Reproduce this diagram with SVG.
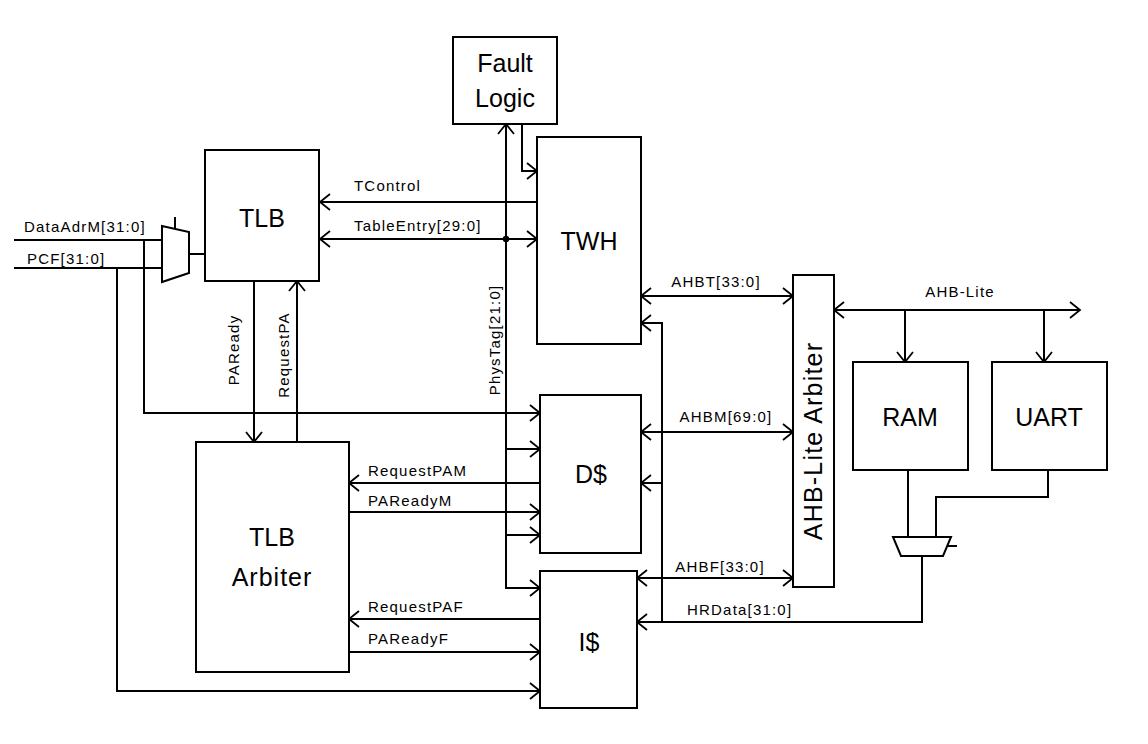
<svg xmlns="http://www.w3.org/2000/svg" width="1148" height="744" viewBox="0 0 1148 744">
<defs>
<marker id="ah" markerUnits="userSpaceOnUse" markerWidth="14" markerHeight="20" refX="11" refY="9" orient="auto-start-reverse" viewBox="0 0 14 20">
<path d="M1,1 L11,9 L1,17" fill="none" stroke="#000" stroke-width="1.8"/>
</marker>
<style>
.box{fill:#fff;stroke:#000;stroke-width:2}
.ln{fill:none;stroke:#000;stroke-width:2}
.a{marker-end:url(#ah)}
.aa{marker-start:url(#ah);marker-end:url(#ah)}
.t{font-family:"Liberation Sans",Arial,sans-serif;font-size:25px;fill:#000;text-anchor:middle}
.l{font-family:"Liberation Sans",Arial,sans-serif;font-size:15px;fill:#000;letter-spacing:1.2px}
.m{text-anchor:middle}
</style>
</defs>
<rect width="1148" height="744" fill="#fff"/>
<g id="connectors">
<path class="ln" d="M14,240 H162"/>
<path class="ln" d="M14,268 H162"/>
<path class="ln a" d="M144,240 V413 H540"/>
<path class="ln a" d="M117,268 V691 H540"/>
<path class="ln" d="M175,217 V229"/>
<path class="ln" d="M189,254 H205"/>
<path class="ln a" d="M537,202 H320"/>
<path class="ln aa" d="M320,239 H537"/>
<circle cx="506" cy="239" r="3.2" fill="#000"/>
<path class="ln a" d="M506,239 V124"/>
<path class="ln a" d="M506,239 V588 H540"/>
<path class="ln a" d="M506,449 H540"/>
<path class="ln a" d="M506,535 H540"/>
<path class="ln a" d="M522,124 V171 H537"/>
<path class="ln a" d="M254,281 V442"/>
<path class="ln a" d="M297,442 V281"/>
<path class="ln a" d="M540,483 H349"/>
<path class="ln a" d="M349,512 H540"/>
<path class="ln a" d="M540,619 H349"/>
<path class="ln a" d="M349,652 H540"/>
<path class="ln aa" d="M641,296 H793"/>
<path class="ln aa" d="M641,432 H793"/>
<path class="ln aa" d="M637,578 H793"/>
<path class="ln a" d="M662,622 V323 H641"/>
<path class="ln a" d="M662,483 H641"/>
<path class="ln a" d="M922,556 V622 H637"/>
<path class="ln aa" d="M834,310 H1080"/>
<path class="ln a" d="M905,310 V362"/>
<path class="ln a" d="M1044,310 V362"/>
<path class="ln" d="M908,470 V537"/>
<path class="ln" d="M1048,470 V497 H936 V537"/>
<path class="ln" d="M947,546 H957"/>
</g>
<g id="labels">
<text class="l" x="24" y="232">DataAdrM[31:0]</text>
<text class="l" x="27" y="264">PCF[31:0]</text>
<text class="l" x="354" y="191">TControl</text>
<text class="l" x="354" y="231">TableEntry[29:0]</text>
<text class="l m" transform="translate(239,350) rotate(-90)">PAReady</text>
<text class="l m" transform="translate(289,355) rotate(-90)">RequestPA</text>
<text class="l m" transform="translate(500,340) rotate(-90)">PhysTag[21:0]</text>
<text class="l" x="368" y="476">RequestPAM</text>
<text class="l" x="368" y="506">PAReadyM</text>
<text class="l" x="368" y="612">RequestPAF</text>
<text class="l" x="368" y="644">PAReadyF</text>
<text class="l m" x="716" y="287">AHBT[33:0]</text>
<text class="l m" x="726" y="422">AHBM[69:0]</text>
<text class="l m" x="720" y="572">AHBF[33:0]</text>
<text class="l" x="687" y="615">HRData[31:0]</text>
<text class="l m" x="960" y="297">AHB-Lite</text>
</g>
<g id="mux1"><polygon class="box" points="162,226 189,232 189,273 162,282"/></g>
<g id="mux2"><polygon class="box" points="893,537 951,537 943,556 901,556"/></g>
<g id="fault"><rect class="box" x="453" y="37" width="104" height="87"/><text class="t" x="505" y="72">Fault</text><text class="t" x="505" y="107">Logic</text></g>
<g id="tlb"><rect class="box" x="205" y="150" width="114" height="131"/><text class="t" x="262" y="227">TLB</text></g>
<g id="twh"><rect class="box" x="537" y="137" width="104" height="207"/><text class="t" x="589" y="250">TWH</text></g>
<g id="tlbarb"><rect class="box" x="196" y="442" width="153" height="230"/><text class="t" x="272" y="546">TLB</text><text class="t" x="272" y="586" style="letter-spacing:1px">Arbiter</text></g>
<g id="dcache"><rect class="box" x="540" y="395" width="101" height="158"/><text class="t" x="591" y="483">D$</text></g>
<g id="icache"><rect class="box" x="540" y="571" width="97" height="137"/><text class="t" x="589" y="651">I$</text></g>
<g id="ahbarb"><rect class="box" x="793" y="275" width="41" height="312"/><text class="t" transform="translate(822,441) rotate(-90)" style="letter-spacing:1.2px">AHB-Lite Arbiter</text></g>
<g id="ram"><rect class="box" x="853" y="362" width="115" height="108"/><text class="t" x="910" y="426">RAM</text></g>
<g id="uart"><rect class="box" x="992" y="362" width="115" height="108"/><text class="t" x="1049" y="426">UART</text></g>
</svg>
